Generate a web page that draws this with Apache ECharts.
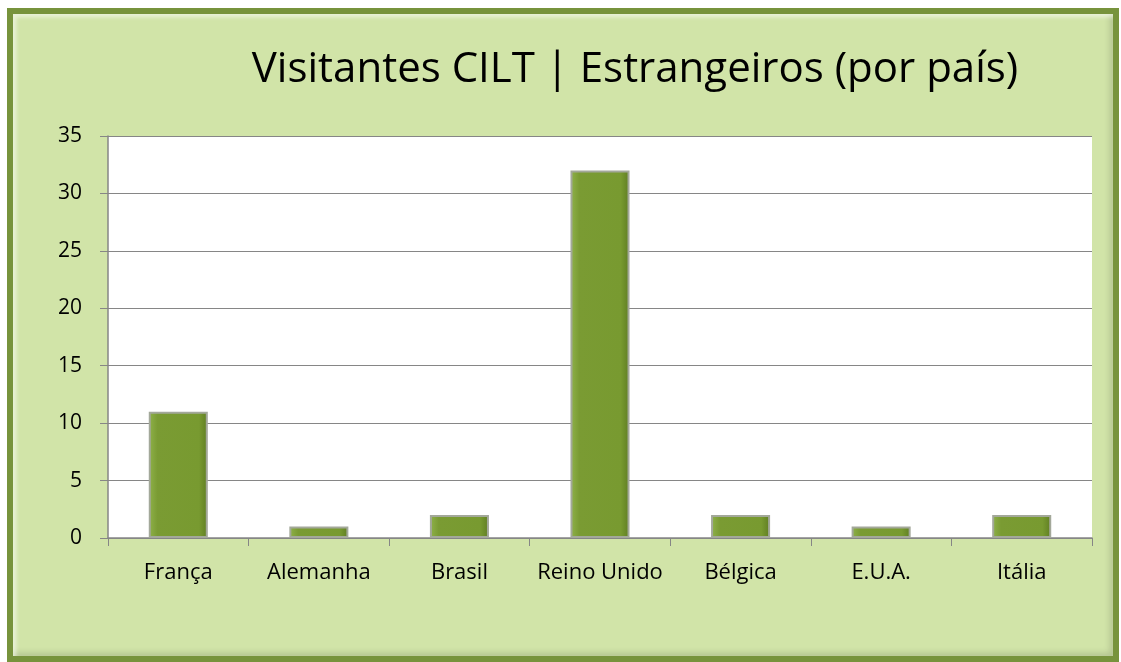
<!DOCTYPE html>
<html>
<head>
<meta charset="utf-8">
<script src="https://cdn.jsdelivr.net/npm/echarts@6/dist/echarts.min.js"></script>
<style>
  html, body { margin: 0; padding: 0; background: #fff; }
  #frame {
    position: absolute; left: 7px; top: 8px; width: 1100px; height: 642px;
    border: 6px solid #77933c; background: #d1e4a8;
    box-shadow: inset 3px 3px 4px rgba(255,255,255,0.6), inset -3px -3px 6px rgba(0,0,0,0.15);
  }
  #main { position: absolute; left: 0; top: 0; width: 1121px; height: 662px; }
</style>
</head>
<body>
<div id="frame"></div>
<div id="main"></div>
<script>
// categorias e valores
var paises = ['França', 'Alemanha', 'Brasil', 'Reino Unido', 'Bélgica', 'E.U.A.', 'Itália'];
var visitantes = [11, 1, 2, 32, 2, 1, 2];
var titulo = 'Visitantes CILT | Estrangeiros (por país)';

var chart = echarts.init(document.getElementById('main'));
var font = 'Open Sans';

var option = {
    animation: false,
    title: {
        text: titulo,
        left: 630, top: 44, textAlign: 'center',
        textStyle: { fontFamily: font, fontSize: 42, fontWeight: 'normal', color: '#000' }
    },
    grid: {
        left: 108, top: 136, width: 984, height: 402,
        show: true, backgroundColor: '#fff', borderWidth: 0
    },
    xAxis: {
        type: 'category',
        data: paises,
        axisLine: { lineStyle: { color: '#868686', width: 1.5 } },
        axisTick: { show: true, interval: 0, length: 8, lineStyle: { color: '#868686' } },
        axisLabel: { interval: 0, fontFamily: font, fontSize: 22, color: '#000', margin: 24 }
    },
    yAxis: {
        type: 'value',
        min: 0, max: 35, interval: 5,
        axisLine: { show: true, lineStyle: { color: '#868686', width: 1.5 } },
        axisTick: { show: true, length: 8, lineStyle: { color: '#868686' } },
        axisLabel: { fontFamily: font, fontSize: 21, color: '#000', margin: 26 },
        splitLine: { lineStyle: { color: '#868686', width: 1 } }
    },
    series: [{
        type: 'bar',
        data: visitantes,
        barWidth: '42%',
        itemStyle: {
            color: new echarts.graphic.LinearGradient(0, 0, 1, 0, [
                { offset: 0, color: '#8fb24a' },
                { offset: 0.15, color: '#7a9b33' },
                { offset: 0.85, color: '#789a30' },
                { offset: 1, color: '#5f7d22' }
            ]),
            borderColor: '#a3a89a',
            borderWidth: 2
        }
    }]
};
chart.setOption(option);
</script>
</body>
</html>
